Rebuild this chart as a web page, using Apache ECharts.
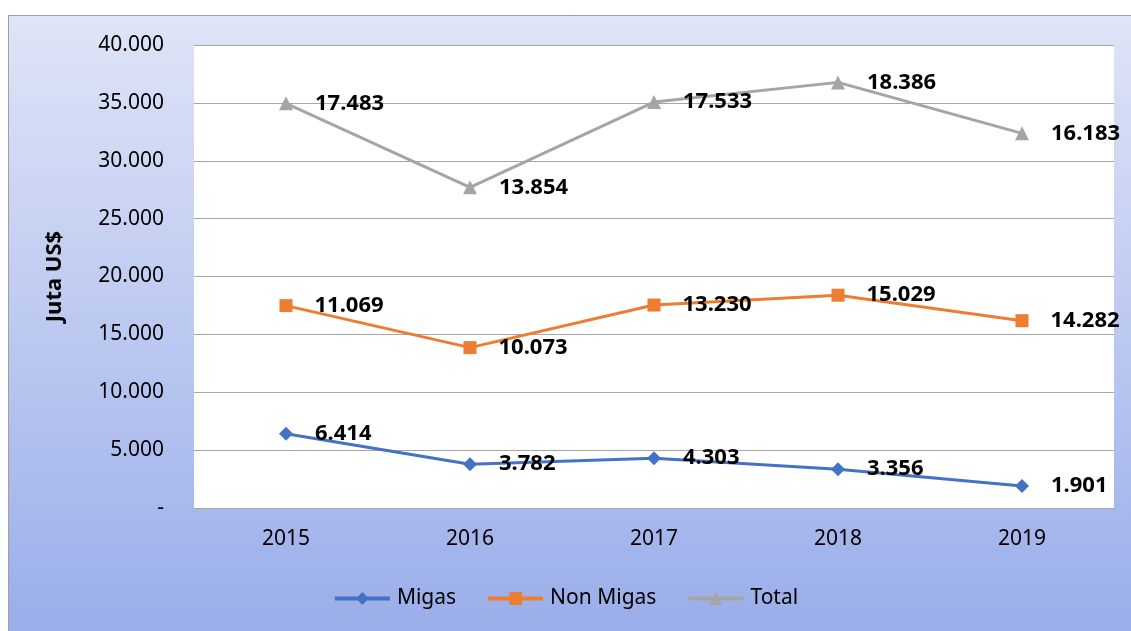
<!DOCTYPE html>
<html><head><meta charset="utf-8">
<script src="https://cdn.jsdelivr.net/npm/echarts@6/dist/echarts.min.js"></script>
<style>html,body{margin:0;padding:0;background:#fff}#c{width:1131px;height:631px}</style>
</head><body><div id="c"></div>
<script>
const categories = ['2015','2016','2017','2018','2019'];
const migas = [6414, 3782, 4303, 3356, 1901];
const nonMigas = [11069, 10073, 13230, 15029, 14282];
const total = [17483, 13854, 17533, 18386, 16183];
const yTicks = {min: 0, max: 40000, interval: 5000};

function fmt(v){
  const s = Math.round(v).toString();
  return s.replace(/\B(?=(\d{3})+(?!\d))/g, '.');
}
const font = '"Noto Sans", "Liberation Sans", sans-serif';
const chart = echarts.init(document.getElementById('c'));
const labelCfg = {show: true, position: 'right', distance: 22, fontFamily: font, fontSize: 22, fontWeight: 'bold', color: '#000', formatter: p => fmt(p.value)};
function ser(name, data, color, symbol, size){
  return {name, type: 'line', stack: 'all', data, symbol, symbolSize: size,
    lineStyle: {color, width: 3}, itemStyle: {color}, label: labelCfg, z: 3};
}
chart.setOption({
  animation: false,
  backgroundColor: '#fff',
  graphic: [{type: 'rect', z: -10, shape: {x: 8.5, y: 15.5, width: 1140, height: 640},
    style: {fill: new echarts.graphic.LinearGradient(0,0,0,1,[{offset:0,color:'#dfe5f7'},{offset:1,color:'#97abe9'}]), stroke: '#a0a0a0', lineWidth: 1}}],
  grid: {left: 194, right: 17, top: 45, bottom: 123, show: true, backgroundColor: '#fff', borderWidth: 0},
  legend: {bottom: 17, left: 'center', itemWidth: 55, itemHeight: 16, itemGap: 30,
    lineStyle: {width: 4},
    textStyle: {fontFamily: font, fontSize: 21, color: '#000', padding: [0,0,0,2]},
    data: ['Migas','Non Migas','Total']},
  xAxis: {type: 'category', data: categories, boundaryGap: true,
    axisLine: {lineStyle: {color: '#a6a6a6', width: 1}}, axisTick: {show: false},
    axisLabel: {fontFamily: font, fontSize: 21, color: '#000', margin: 21}},
  yAxis: {type: 'value', min: yTicks.min, max: yTicks.max, interval: yTicks.interval,
    name: 'Juta US$', nameLocation: 'middle', nameGap: 128, nameRotate: 90,
    nameTextStyle: {fontFamily: font, fontSize: 22, fontWeight: 'bold', color: '#000'},
    axisLine: {show: false}, axisTick: {show: false},
    splitLine: {lineStyle: {color: '#a6a6a6', width: 1}},
    axisLabel: {fontFamily: font, fontSize: 21, color: '#000', margin: 30,
      formatter: v => v === 0 ? '-' : fmt(v)}},
  series: [
    ser('Migas', migas, '#4472c4', 'diamond', 14),
    ser('Non Migas', nonMigas, '#ed7d31', 'rect', 13),
    ser('Total', total, '#a5a5a5', 'triangle', 14)
  ]
});
</script></body></html>
